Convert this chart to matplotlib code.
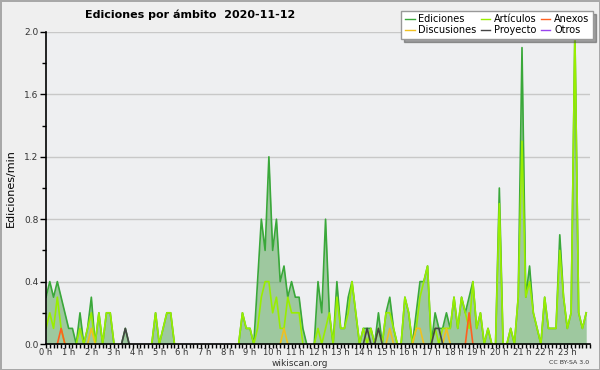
import numpy as np
import matplotlib
matplotlib.use('Agg')
import matplotlib.pyplot as plt
from matplotlib.ticker import MultipleLocator, FormatStrFormatter

# edits per minute, one value every 10 minutes (144 samples)
ediciones = [
    0.3, 0.4, 0.3, 0.4, 0.3, 0.2, 0.1, 0.1, 0.0, 0.2, 0.0, 0.1,
    0.3, 0.0, 0.2, 0.0, 0.2, 0.2, 0.0, 0.0, 0.0, 0.1, 0.0, 0.0,
    0.0, 0.0, 0.0, 0.0, 0.0, 0.2, 0.0, 0.1, 0.2, 0.2, 0.0, 0.0,
    0.0, 0.0, 0.0, 0.0, 0.0, 0.0, 0.0, 0.0, 0.0, 0.0, 0.0, 0.0,
    0.0, 0.0, 0.0, 0.0, 0.2, 0.1, 0.1, 0.0, 0.4, 0.8, 0.6, 1.2,
    0.6, 0.8, 0.4, 0.5, 0.3, 0.4, 0.3, 0.3, 0.1, 0.0, 0.0, 0.0,
    0.4, 0.2, 0.8, 0.2, 0.0, 0.4, 0.1, 0.1, 0.3, 0.4, 0.2, 0.0,
    0.1, 0.1, 0.1, 0.0, 0.2, 0.0, 0.2, 0.3, 0.1, 0.0, 0.0, 0.3,
    0.2, 0.0, 0.2, 0.4, 0.4, 0.5, 0.0, 0.2, 0.1, 0.1, 0.2, 0.1,
    0.3, 0.1, 0.3, 0.2, 0.3, 0.4, 0.1, 0.2, 0.0, 0.1, 0.0, 0.0,
    1.0, 0.0, 0.0, 0.1, 0.0, 0.3, 1.9, 0.3, 0.5, 0.2, 0.1, 0.0,
    0.3, 0.1, 0.1, 0.1, 0.7, 0.3, 0.1, 0.2, 2.0, 0.2, 0.1, 0.2,
]
articulos = [
    0.1, 0.2, 0.1, 0.3, 0.1, 0.0, 0.0, 0.0, 0.0, 0.1, 0.0, 0.1,
    0.2, 0.0, 0.2, 0.0, 0.2, 0.2, 0.0, 0.0, 0.0, 0.0, 0.0, 0.0,
    0.0, 0.0, 0.0, 0.0, 0.0, 0.2, 0.0, 0.1, 0.2, 0.2, 0.0, 0.0,
    0.0, 0.0, 0.0, 0.0, 0.0, 0.0, 0.0, 0.0, 0.0, 0.0, 0.0, 0.0,
    0.0, 0.0, 0.0, 0.0, 0.2, 0.1, 0.1, 0.0, 0.1, 0.3, 0.4, 0.4,
    0.2, 0.3, 0.1, 0.1, 0.3, 0.2, 0.2, 0.2, 0.0, 0.0, 0.0, 0.0,
    0.1, 0.0, 0.1, 0.2, 0.0, 0.3, 0.1, 0.1, 0.2, 0.4, 0.2, 0.0,
    0.1, 0.0, 0.1, 0.0, 0.1, 0.0, 0.2, 0.2, 0.1, 0.0, 0.0, 0.3,
    0.2, 0.0, 0.1, 0.3, 0.4, 0.5, 0.0, 0.1, 0.0, 0.1, 0.1, 0.1,
    0.3, 0.1, 0.3, 0.2, 0.1, 0.4, 0.1, 0.2, 0.0, 0.1, 0.0, 0.0,
    0.9, 0.0, 0.0, 0.1, 0.0, 0.3, 1.3, 0.3, 0.4, 0.2, 0.1, 0.0,
    0.3, 0.1, 0.1, 0.1, 0.6, 0.3, 0.1, 0.2, 2.0, 0.2, 0.1, 0.2,
]
discusiones = [0.0] * 144
anexos = [0.0] * 144
proyecto = [0.0] * 144
otros = [0.0] * 144
for k in (12, 63, 91, 98, 99, 106):
    discusiones[k] = 0.1
anexos[4] = 0.1
anexos[112] = 0.2
for k in (21, 85, 88, 103, 104):
    proyecto[k] = 0.1

hour_labels = ['%d h' % h for h in range(24)]

x = np.arange(144) / 6.0


def visible(vals):
    # hide flat runs of zero so they don't draw over the axis
    v = np.array(vals, dtype=float)
    out = v.copy()
    for i in range(len(v)):
        left = v[i - 1] if i > 0 else 0
        right = v[i + 1] if i < len(v) - 1 else 0
        if v[i] == 0 and left == 0 and right == 0:
            out[i] = np.nan
    return out


fig = plt.figure(figsize=(6, 3.7), dpi=100, facecolor='#efefef',
                 edgecolor='#a8a8a8', linewidth=2)
ax = fig.add_axes([46 / 600, 26 / 370, 544 / 600, 312 / 370])
ax.set_facecolor('#eeeff1')

ax.fill_between(x, 0, ediciones, color='#4fa34f', alpha=0.5, lw=0, zorder=1)
l_ed, = ax.plot(x, visible(ediciones), color='#3aa83a', lw=1.2, label='Ediciones', zorder=3)
l_ar, = ax.plot(x, visible(articulos), color='#99ee00', lw=1.2, label='Artículos', zorder=4)
l_di, = ax.plot(x, visible(discusiones), color='#f0c020', lw=1.2, label='Discusiones', zorder=5)
l_an, = ax.plot(x, visible(anexos), color='#ff6020', lw=1.2, label='Anexos', zorder=5)
l_pr, = ax.plot(x, visible(proyecto), color='#444444', lw=1.2, label='Proyecto', zorder=5)
l_ot, = ax.plot(x, visible(otros), color='#9944ee', lw=1.2, label='Otros', zorder=5)

ax.set_xlim(0, 24)
ax.set_ylim(0, 2.0)
ax.xaxis.set_minor_locator(MultipleLocator(1 / 6))
ax.set_xticks(range(24))
ax.set_xticklabels(hour_labels)
ax.yaxis.set_major_locator(MultipleLocator(0.4))
ax.yaxis.set_minor_locator(MultipleLocator(0.2))
ax.yaxis.set_major_formatter(FormatStrFormatter('%.1f'))
ax.tick_params(axis='both', which='both', direction='out',
               labelcolor='#333333', width=1)
ax.tick_params(axis='x', which='both', length=3, labelsize=6, pad=0)
ax.tick_params(axis='y', labelsize=6.5, pad=1.5)
ax.tick_params(axis='y', which='major', length=4)
ax.tick_params(axis='y', which='minor', length=3)

ax.grid(axis='y', which='major', color='#c8c8c8', lw=1)
ax.set_axisbelow(True)
for side in ('top', 'right'):
    ax.spines[side].set_visible(False)
for side in ('left', 'bottom'):
    ax.spines[side].set_color('black')
    ax.spines[side].set_linewidth(1.2)
    ax.spines[side].set_zorder(6)

ax.set_ylabel('Ediciones/min', fontsize=8, labelpad=6)

fig.text(85 / 600, 1 - 15 / 370, 'Ediciones por ámbito  2020-11-12',
         fontsize=8, fontweight='bold', ha='left', va='center')
fig.text(0.5, 1 - 363 / 370, 'wikiscan.org', fontsize=6.5, ha='center',
         va='center', color='#333333')
fig.text(589 / 600, 1 - 362 / 370, 'CC BY-SA 3.0', fontsize=4.5, ha='right',
         va='center', color='#333333')

handles = [l_ed, l_di, l_ar, l_pr, l_an, l_ot]
leg = fig.legend(handles, [h.get_label() for h in handles], ncol=3,
                 loc='upper right', bbox_to_anchor=(593 / 600, 1 - 11 / 370),
                 fontsize=7, frameon=True, fancybox=False, shadow=True,
                 handlelength=1.0, handletextpad=0.4, columnspacing=0.4,
                 labelspacing=0.1, borderpad=0.35, borderaxespad=0)
leg.get_frame().set_edgecolor('#999999')
leg.get_frame().set_linewidth(1)
for h in leg.legend_handles:
    h.set_linewidth(1)

fig.savefig('out.png', dpi=100, facecolor=fig.get_facecolor(),
            edgecolor=fig.get_edgecolor())
